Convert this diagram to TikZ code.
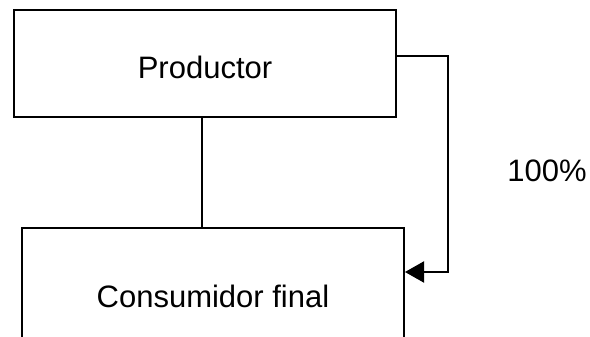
\documentclass[tikz,border=0pt]{standalone}
\usepackage{fontspec}
\setmainfont{Liberation Sans}
\usetikzlibrary{arrows.meta}
\begin{document}
\begin{tikzpicture}[x=1pt,y=-1pt,
  box/.style={draw,line width=2pt,inner sep=0pt},
  link/.style={line width=2pt},
  flow/.style={line width=2pt,-{Triangle[length=19pt,width=21pt]}},
  tag/.style={font=\fontsize{31}{36}\selectfont,inner sep=0pt}]
  \fill[white] (0,0) rectangle (590,337);
  \useasboundingbox (0,0) rectangle (590,337);
  \clip (0,0) rectangle (590,337);
  % producer and final consumer
  \node[box,minimum width=382pt,minimum height=107pt] (prod) at (205,63.5) {};
  \node[tag] (prodname) at ([yshift=-4pt]prod.center) {Productor};
  \node[box,minimum width=382pt,minimum height=136pt] (cons) at (213,296) {};
  \node[tag] (consname) at (cons.center) {Consumidor final};
  % direct link between them
  \draw[link] ([xshift=-3pt]prod.south) -- ([xshift=-3pt]prod.south |- cons.north);
  % 100% flow along the right-hand side
  \coordinate (bend) at (448,272);
  \draw[flow] ([yshift=7.5pt]prod.east) -| (bend) -- (bend -| cons.east);
  \node[tag] (share) at (547,171) {100\%};
\end{tikzpicture}
\end{document}
